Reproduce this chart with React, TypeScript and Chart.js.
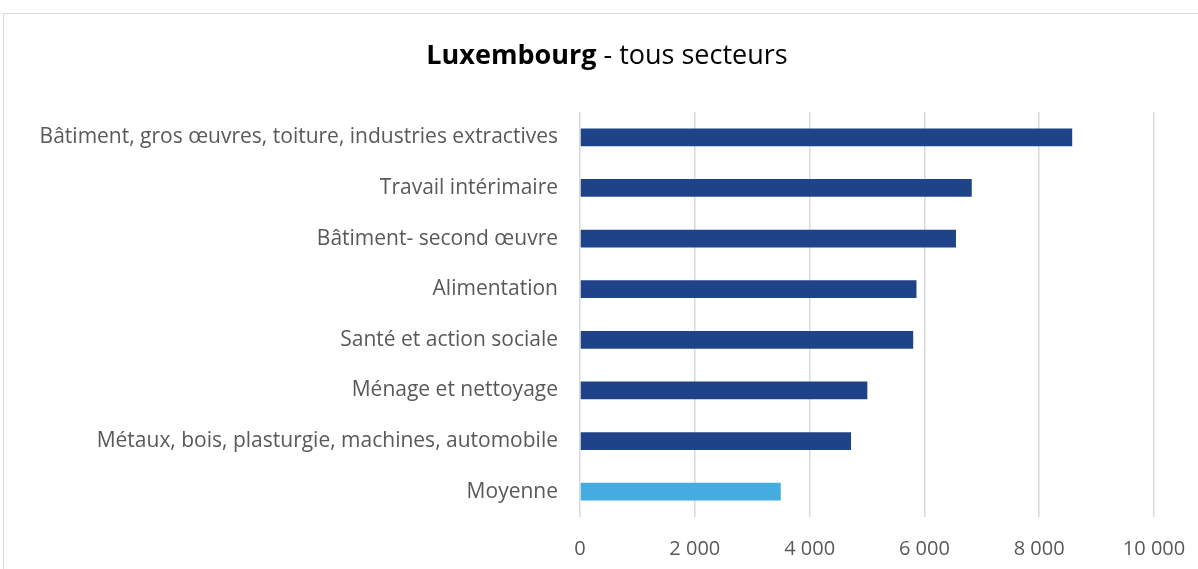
import React, { useEffect, useRef } from "react";
import { Chart, registerables } from "chart.js";

Chart.register(...registerables);

const categories = [
  "Bâtiment, gros œuvres, toiture, industries extractives",
  "Travail intérimaire",
  "Bâtiment- second œuvre",
  "Alimentation",
  "Santé et action sociale",
  "Ménage et nettoyage",
  "Métaux, bois, plasturgie, machines, automobile",
  "Moyenne",
];
const values = [8575, 6825, 6550, 5862, 5805, 5006, 4722, 3497];
const barColors = ["#1F4388", "#1F4388", "#1F4388", "#1F4388", "#1F4388", "#1F4388", "#1F4388", "#44ACE0"];
const xTicks = [0, 2000, 4000, 6000, 8000, 10000];
const titleBold = "Luxembourg";
const titleRest = " - tous secteurs";

const FONT = "'Open Sans', Lato, sans-serif";

const fmt = (v: number) => {
  const s = Math.round(v).toString();
  return s.replace(/\B(?=(\d{3})+(?!\d))/g, " ");
};

const titlePlugin = {
  id: "mixedTitle",
  afterDraw(chart: any) {
    const ctx = chart.ctx as CanvasRenderingContext2D;
    ctx.save();
    ctx.textBaseline = "middle";
    ctx.fillStyle = "#000000";
    const bold = `bold 27px ${FONT}`;
    const norm = `27px ${FONT}`;
    ctx.font = bold;
    const w1 = ctx.measureText(titleBold).width;
    ctx.font = norm;
    const w2 = ctx.measureText(titleRest).width;
    const cx = 607;
    const x0 = cx - (w1 + w2) / 2;
    const y = 56;
    ctx.font = bold;
    ctx.textAlign = "left";
    ctx.fillText(titleBold, x0, y);
    ctx.font = norm;
    ctx.fillText(titleRest, x0 + w1, y);
    ctx.restore();
  },
};

export default function App() {
  const ref = useRef<HTMLCanvasElement | null>(null);
  useEffect(() => {
    if (!ref.current) return;
    const chart = new Chart(ref.current, {
      type: "bar",
      data: {
        labels: categories,
        datasets: [
          {
            data: values,
            backgroundColor: barColors,
            barPercentage: 0.7,
            categoryPercentage: 0.5,
          },
        ],
      },
      options: {
        indexAxis: "y",
        animation: false,
        responsive: false,
        maintainAspectRatio: false,
        layout: { padding: { top: 112, right: 44, left: 0, bottom: 0 } },
        plugins: {
          legend: { display: false },
          title: { display: false },
          tooltip: { enabled: false },
        },
        scales: {
          x: {
            min: 0,
            max: 10000,
            afterBuildTicks(scale: any) {
              scale.ticks = xTicks.map((v) => ({ value: v }));
            },
            afterFit(scale: any) {
              scale.height = 52;
              scale.paddingRight = 0;
              scale.paddingLeft = 0;
            },
            ticks: {
              callback: (v: any) => fmt(Number(v)),
              color: "#595959",
              font: { family: FONT, size: 20 },
              padding: 20,
              maxRotation: 0,
            },
            grid: { color: "#D9D9D9", lineWidth: 1.5, drawTicks: false },
            border: { display: false },
          },
          y: {
            afterFit(scale: any) {
              scale.width = 580;
            },
            ticks: {
              color: "#595959",
              font: { family: FONT, size: 21 },
              padding: 22,
            },
            grid: { display: false, drawTicks: false },
            border: { display: false },
          },
        },
      },
      plugins: [titlePlugin],
    });
    return () => chart.destroy();
  }, []);
  return (
    <div style={{ position: "absolute", left: 0, top: 0, width: 1198, height: 569, overflow: "hidden", background: "#fff" }}>
      <div
        style={{
          position: "absolute",
          left: 3,
          top: 13,
          width: 1300,
          height: 700,
          border: "1.5px solid #D9D9D9",
          boxSizing: "border-box",
        }}
      />
      <canvas ref={ref} width={1198} height={569} style={{ position: "absolute", left: 0, top: 0 }} />
    </div>
  );
}
